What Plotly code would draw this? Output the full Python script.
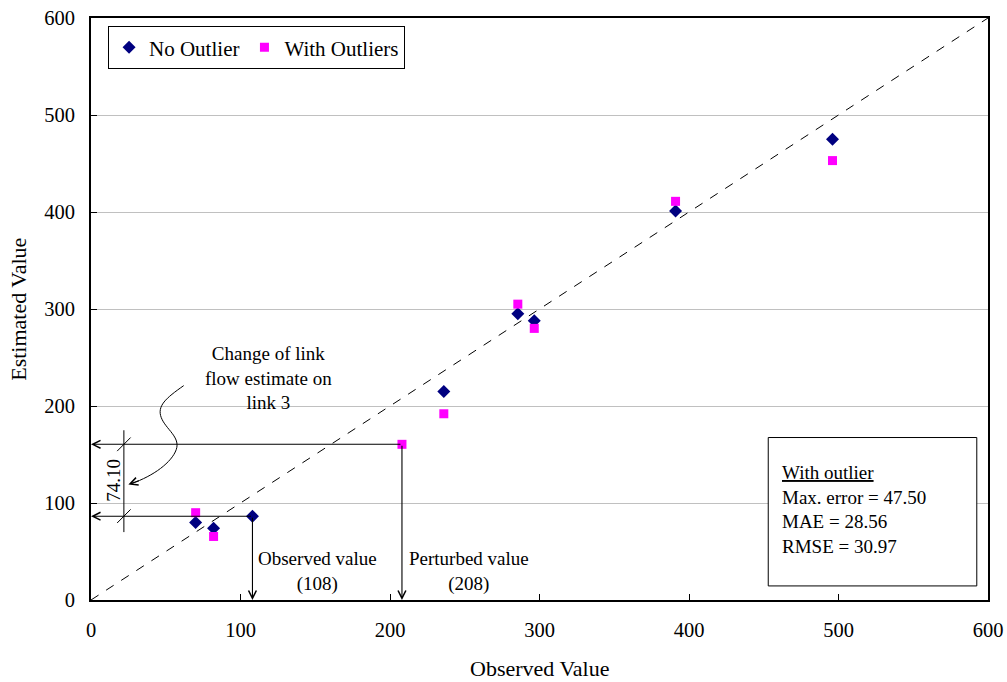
import plotly.graph_objects as go

# Observed vs estimated link flows
obs_no_outlier = [70, 82, 108, 236, 285.5, 296.5, 391, 496]
est_no_outlier = [80, 74, 86.4, 215, 295, 288, 401, 475]
obs_with_outliers = [70, 82, 208, 236, 285.5, 296.5, 391, 496]
est_with_outliers = [90, 65.5, 160.5, 192, 305, 280, 411, 453]

axis_ticks = [0, 100, 200, 300, 400, 500, 600]
link3_observed = 108
link3_perturbed = 208
link3_change = 74.10
stats_lines = ["Max. error = 47.50", "MAE = 28.56", "RMSE = 30.97"]

FONT = "Liberation Serif, Times New Roman, serif"
NOTE_SIZE = 19

fig = go.Figure()

# 45-degree reference line
fig.add_trace(go.Scatter(x=[0, 600], y=[0, 600], mode="lines",
                         line=dict(color="black", width=1, dash="dash"),
                         showlegend=False, hoverinfo="skip"))

fig.add_trace(go.Scatter(x=obs_no_outlier, y=est_no_outlier, mode="markers",
                         name="No Outlier",
                         marker=dict(symbol="diamond", size=10, color="#000080")))
fig.add_trace(go.Scatter(x=obs_with_outliers, y=est_with_outliers, mode="markers",
                         name="With Outliers",
                         marker=dict(symbol="square", size=9, color="#FF00FF")))

est_before = est_no_outlier[obs_no_outlier.index(link3_observed)]
est_after = est_with_outliers[obs_with_outliers.index(link3_perturbed)]

annotations = []


def arrow(x0, y0, x1, y1, head=5, size=1.4):
    annotations.append(dict(x=x1, y=y1, ax=x0, ay=y0, xref="x", yref="y",
                            axref="x", ayref="y", text="", showarrow=True,
                            arrowhead=head, arrowsize=size, arrowwidth=1.1,
                            arrowcolor="black", standoff=0, startstandoff=0))


# projections of link 3 onto the axes
arrow(link3_observed, est_before, 0, est_before)
arrow(link3_perturbed, est_after, 0, est_after)
arrow(link3_observed, est_before, link3_observed, 0)
arrow(link3_perturbed, est_after, link3_perturbed, 0)

shapes = []
# dimension line for the change of estimate
dim_x = 22
shapes.append(dict(type="line", xref="x", yref="y", x0=dim_x, x1=dim_x,
                   y0=70, y1=175, line=dict(color="black", width=1)))
for yv in (est_before, est_after):
    shapes.append(dict(type="line", xref="x", yref="y", x0=dim_x - 4.5, x1=dim_x + 4.5,
                       y0=yv - 7, y1=yv + 7, line=dict(color="black", width=1)))

# curved leader from the note to the dimension line
shapes.append(dict(type="path", xref="x", yref="y",
                   path="M 62,221 C 50,208 44,200 47,188 C 50,176 60,168 57,155 C 54,142 42,128 27,120",
                   line=dict(color="black", width=1)))
arrow(33, 123.5, 25, 119)

# statistics box
shapes.append(dict(type="rect", xref="x", yref="y", x0=453, x1=592.5, y0=14.5, y1=167.5,
                   line=dict(color="black", width=1), fillcolor="white", layer="above"))

note_font = dict(family=FONT, size=NOTE_SIZE, color="black")
annotations.append(dict(x=dim_x - 7.0, y=(est_before + est_after) / 2, xref="x", yref="y",
                        text=f"{link3_change:.2f}", showarrow=False, textangle=-90,
                        font=note_font))
annotations.append(dict(x=118.5, y=229, xref="x", yref="y",
                        text="Change of link<br>flow estimate on<br>link 3", showarrow=False,
                        align="center", font=note_font))
annotations.append(dict(x=151.5, y=29.5, xref="x", yref="y",
                        text=f"Observed value<br>({link3_observed})", showarrow=False,
                        align="center", font=note_font))
annotations.append(dict(x=253, y=29.5, xref="x", yref="y",
                        text=f"Perturbed value<br>({link3_perturbed})", showarrow=False,
                        align="center", font=note_font))
annotations.append(dict(x=461, y=93, xref="x", yref="y", xanchor="left", yanchor="middle",
                        text="<u>With outlier</u><br>" + "<br>".join(stats_lines),
                        showarrow=False, align="left", font=note_font))

# axis titles
annotations.append(dict(x=0.5, y=-0.117, xref="paper", yref="paper", xanchor="center",
                        yanchor="middle", text="Observed Value", showarrow=False,
                        font=dict(family=FONT, size=22, color="black")))
annotations.append(dict(x=-0.0816, y=0.5, xref="paper", yref="paper", xanchor="center",
                        yanchor="middle", text="Estimated Value", showarrow=False,
                        textangle=-90, font=dict(family=FONT, size=22, color="black")))

fig.update_layout(
    width=1007, height=682,
    margin=dict(l=91, r=19, t=18, b=82),
    paper_bgcolor="white", plot_bgcolor="white",
    font=dict(family=FONT, size=20, color="black"),
    shapes=shapes, annotations=annotations,
    legend=dict(x=0.019, y=0.986, xanchor="left", yanchor="top", orientation="h",
                bordercolor="black", borderwidth=1, bgcolor="white",
                font=dict(family=FONT, size=21), itemwidth=30, tracegroupgap=0),
)
fig.update_xaxes(range=[0, 600], tickvals=axis_ticks, showgrid=False, zeroline=False,
                 showline=True, linecolor="black", linewidth=2, mirror=True,
                 ticks="inside", ticklen=6, tickcolor="black", ticklabelstandoff=10,
                 automargin=False, tickfont=dict(size=20.5))
fig.update_yaxes(range=[0, 600], tickvals=axis_ticks, showgrid=True, gridcolor="#C0C0C0",
                 gridwidth=1, zeroline=False, showline=True, linecolor="black",
                 linewidth=2, mirror=True, ticks="inside", ticklen=6, tickcolor="black",
                 ticklabelstandoff=10, automargin=False, tickfont=dict(size=20.5))

fig.write_html("out.html")
